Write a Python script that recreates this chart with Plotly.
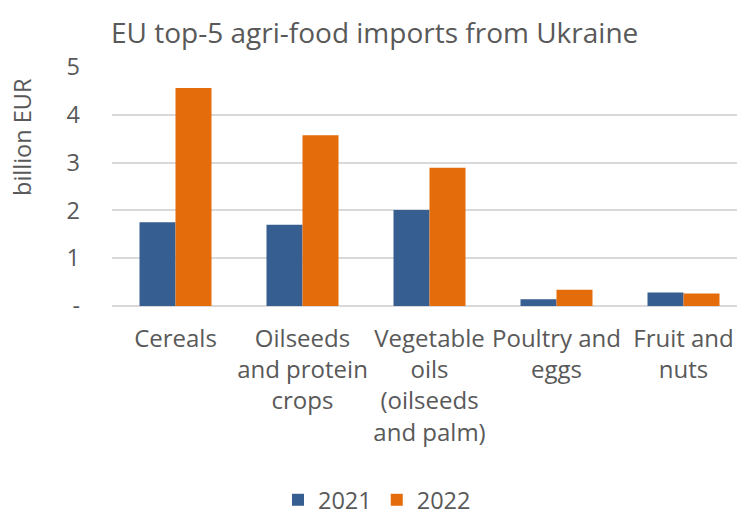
import plotly.graph_objects as go

# EU agri-food imports from Ukraine, billion EUR
categories = ["Cereals", "Oilseeds and protein crops", "Vegetable oils (oilseeds and palm)",
              "Poultry and eggs", "Fruit and nuts"]
category_labels = ["Cereals", "Oilseeds<br>and protein<br>crops",
                   "Vegetable<br>oils<br>(oilseeds<br>and palm)",
                   "Poultry and<br>eggs", "Fruit and<br>nuts"]
values_2021 = [1.75, 1.70, 2.01, 0.14, 0.28]
values_2022 = [4.56, 3.57, 2.89, 0.34, 0.26]
y_ticks = [0, 1, 2, 3, 4, 5]
y_tick_labels = ["-", "1", "2", "3", "4", "5"]

FONT = "Open Sans"
GREY = "#595959"
BLUE = "#365E91"
ORANGE = "#E46C0A"
SIZE = 23.5

fig = go.Figure()
fig.add_trace(go.Bar(x=categories, y=values_2021, name="2021",
                     marker=dict(color=BLUE, line=dict(width=0))))
fig.add_trace(go.Bar(x=categories, y=values_2022, name="2022",
                     marker=dict(color=ORANGE, line=dict(width=0))))

fig.update_layout(
    width=737, height=520,
    margin=dict(l=112, r=0, t=67, b=214),
    paper_bgcolor="white", plot_bgcolor="white",
    barmode="group", bargap=0.433, bargroupgap=0,
    font=dict(family=FONT, color=GREY, size=SIZE),
    title=dict(text="EU top-5 agri-food imports from Ukraine",
               font=dict(family=FONT, size=28, color=GREY),
               x=111 / 737, xref="container", xanchor="left",
               y=1 - 33 / 520, yref="container", yanchor="middle"),
    legend=dict(orientation="h", xref="container", yref="container",
                x=377 / 737, xanchor="center", y=1 - 500 / 520, yanchor="middle",
                font=dict(family=FONT, size=SIZE, color=GREY),
                itemwidth=30, traceorder="normal"),
    xaxis=dict(type="category", range=[-0.5, -0.5 + 625 / 127],
               tickmode="array", tickvals=categories, ticktext=category_labels,
               showgrid=False, showline=False, ticks="", zeroline=False,
               ticklabelstandoff=16,
               tickfont=dict(family=FONT, size=24, color=GREY)),
    yaxis=dict(range=[0, 5], tickmode="array", tickvals=y_ticks, ticktext=y_tick_labels,
               showgrid=True, gridcolor="#d9d9d9", gridwidth=1.5,
               zeroline=True, zerolinecolor="#d9d9d9", zerolinewidth=1.5,
               showline=False, ticks="", ticklabelstandoff=31,
               tickfont=dict(family=FONT, size=SIZE, color=GREY)),
    annotations=[dict(text="billion EUR", textangle=-90, showarrow=False,
                      xref="paper", yref="paper", x=-(112 - 22) / 625, y=(306 - 137) / 239,
                      xanchor="center", yanchor="middle",
                      font=dict(family=FONT, size=SIZE, color=GREY))],
)

fig.write_html("out.html")
